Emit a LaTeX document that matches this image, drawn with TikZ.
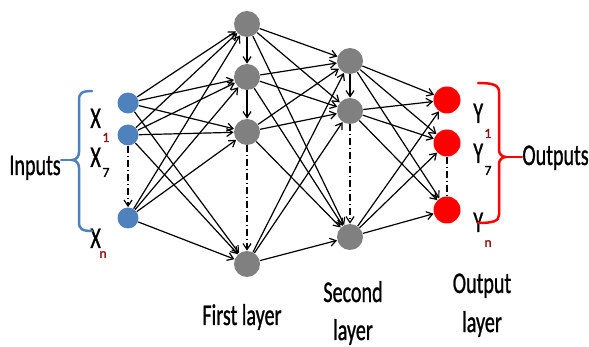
\documentclass[tikz,border=0pt]{standalone}
\usepackage{fontspec}
\setmainfont{Carlito}
\newfontfamily\lblfont{Carlito}[FakeBold=1.2]
\usetikzlibrary{arrows.meta}
\tikzset{every picture/.style={line width=0.75pt}}
\definecolor{inblue}{RGB}{79,129,189}
\definecolor{hidgray}{RGB}{128,128,128}
\definecolor{outred}{RGB}{255,0,0}
\definecolor{subred}{RGB}{140,20,20}
\newcommand{\narrow}[1]{\scalebox{0.67}[1]{#1}}
\tikzset{
  inneuron/.style={circle,fill=inblue,minimum size=21pt,inner sep=0pt},
  hidneuron/.style={circle,fill=hidgray,minimum size=26pt,inner sep=0pt},
  outneuron/.style={circle,fill=outred,minimum size=27pt,inner sep=0pt},
  conn/.style={-{Straight Barb[length=6pt,width=8pt]},line width=1.2pt},
  dashconn/.style={conn,dash pattern=on 7pt off 3pt on 1pt off 3pt},
  dashline/.style={line width=1.2pt,dash pattern=on 7pt off 3pt on 1pt off 3pt},
  lbl/.style={inner sep=0pt,font=\lblfont\fontsize{30}{30}\selectfont},
  sublbl/.style={inner sep=0pt,font=\lblfont\fontsize{14}{14}\selectfont},
  bracket/.style={line width=2.5pt,line cap=round},
}

\begin{document}
\begin{tikzpicture}[x=1pt,y=1pt,yscale=-1,xscale=1]
\useasboundingbox (0,0) rectangle (589,347);

%Input layer
\node [inneuron] (i1) at (128,103) {};
\node [inneuron] (i2) at (128,135) {};
\node [inneuron] (i3) at (128,218) {};
%First layer
\node [hidneuron] (h1) at (247,24) {};
\node [hidneuron] (h2) at (247,77) {};
\node [hidneuron] (h3) at (247,132) {};
\node [hidneuron] (h4) at (247,264) {};
%Second layer
\node [hidneuron] (s1) at (350,61) {};
\node [hidneuron] (s2) at (350,111) {};
\node [hidneuron] (s3) at (350,237) {};
%Output layer
\node [outneuron] (o1) at (447,100) {};
\node [outneuron] (o2) at (447,143) {};
\node [outneuron] (o3) at (447,210) {};

%Inputs -> first layer
\draw [conn] (i1) -- (h1);
\draw [conn] (i1) -- (h2);
\draw [conn] (i1) -- (h3);
\draw [conn] (i1) -- (h4);
\draw [conn] (i2) -- (h1);
\draw [conn] (i2) -- (h2);
\draw [conn] (i2) -- (h3);
\draw [conn] (i2) -- (h4);
\draw [conn] (i3) -- (h1);
\draw [conn] (i3) -- (h2);
\draw [conn] (i3) -- (h3);
\draw [conn] (i3) -- (h4);
%First layer -> second layer
\draw [conn] (h1) -- (s1);
\draw [conn] (h1) -- (s2);
\draw [conn] (h1) -- (s3);
\draw [conn] (h2) -- (s1);
\draw [conn] (h2) -- (s2);
\draw [conn] (h2) -- (s3);
\draw [conn] (h3) -- (s1);
\draw [conn] (h3) -- (s2);
\draw [conn] (h3) -- (s3);
\draw [conn] (h4) -- (s1);
\draw [conn] (h4) -- (s2);
\draw [conn] (h4) -- (s3);
%Second layer -> output layer
\draw [conn] (s1) -- (o1);
\draw [conn] (s1) -- (o2);
\draw [conn] (s1) -- (o3);
\draw [conn] (s2) -- (o1);
\draw [conn] (s2) -- (o2);
\draw [conn] (s2) -- (o3);
\draw [conn] (s3) -- (o1);
\draw [conn] (s3) -- (o2);
\draw [conn] (s3) -- (o3);
%Vertical links
\draw [dashconn] (i2) -- (i3);
\draw [conn] (h1) -- (h2);
\draw [conn] (h2) -- (h3);
\draw [dashconn] (h3) -- (h4);
\draw [conn] (s1) -- (s2);
\draw [dashconn] (s2) -- (s3);
\draw [dashline] (o2) -- (o3);

% Text Node
\node [lbl,anchor=base west] (lblIn) at (9,175) {\narrow{Inputs}};
\node [lbl,anchor=base west] (x1) at (90,128) {\narrow{X}};
\node [sublbl,anchor=base west,text=subred] (x1s) at (102,142) {1};
\node [lbl,anchor=base west] (x2) at (90,167) {\narrow{X}};
\node [sublbl,anchor=base west] (x2s) at (102,177) {7};
\node [lbl,anchor=base west] (xn) at (90,248) {\narrow{X}};
\node [sublbl,anchor=base west,text=subred] (xns) at (99,258) {n};
\node [lbl,anchor=base west] (y1) at (473,123) {\narrow{Y}};
\node [sublbl,anchor=base west,text=subred] (y1s) at (484,138) {1};
\node [lbl,anchor=base west] (y2) at (473,163) {\narrow{Y}};
\node [sublbl,anchor=base west] (y2s) at (484,175) {7};
\node [lbl,anchor=base west] (yn) at (473,232) {\narrow{Y}};
\node [sublbl,anchor=base west,text=subred] (yns) at (484,247) {n};
\node [lbl,anchor=base west] (lblOut) at (522,165) {\narrow{Outputs}};
\node [lbl,anchor=base] (lblFirst) at (242,325) {\narrow{First layer}};
\node [lbl,anchor=base] (lblSecA) at (353,302) {\narrow{Second}};
\node [lbl,anchor=base] (lblSecB) at (353,340) {\narrow{layer}};
\node [lbl,anchor=base] (lblOutA) at (482,293) {\narrow{Output}};
\node [lbl,anchor=base] (lblOutB) at (482,332) {\narrow{layer}};

%Brace: inputs
\coordinate (tipIn) at (72,160);
\draw [bracket,inblue] (92,91) .. controls (82,91) and (79,93) .. (79,100) -- (79,152) .. controls (79,157) and (76,160) .. (tipIn) .. controls (76,160) and (79,163) .. (79,168) -- (79,222) .. controls (79,229) and (82,231) .. (92,231);
\draw [bracket,inblue] (tipIn) -- (tipIn -| lblIn.east);
%Brace: outputs
\coordinate (tipOut) at (506,157);
\draw [bracket,outred] (478,83) .. controls (493,83) and (499,85) .. (499,92) -- (499,150) .. controls (499,154) and (502,157) .. (tipOut) .. controls (502,157) and (499,160) .. (499,164) -- (499,215) .. controls (499,221) and (493,223) .. (478,223);
\draw [bracket,outred] (tipOut) -- (tipOut -| lblOut.west);
\end{tikzpicture}
\end{document}
